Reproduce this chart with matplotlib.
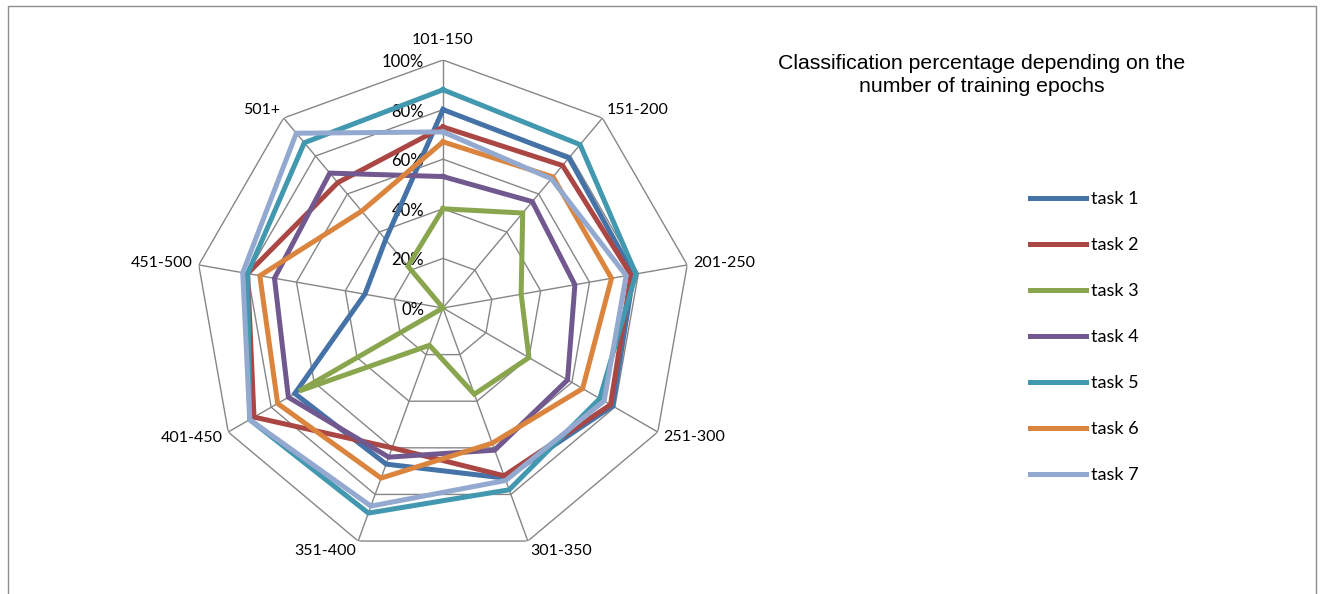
import numpy as np
import matplotlib
matplotlib.use("Agg")
import matplotlib.pyplot as plt
from matplotlib.patches import Rectangle

# epoch ranges (spokes, clockwise from the top)
categories = ["101-150", "151-200", "201-250", "251-300", "301-350",
              "351-400", "401-450", "451-500", "501+"]

# classification percentage per task
task1 = [80, 79, 78, 79, 73, 67, 69, 32, 36]
task2 = [73, 75, 77, 78, 72, 60, 88, 80, 66]
task3 = [40, 50, 32, 40, 37, 16, 67, 0, 22]
task4 = [53, 56, 54, 58, 61, 64, 72, 69, 71]
task5 = [88, 86, 79, 73, 78, 88, 90, 80, 87]
task6 = [67, 69, 69, 65, 58, 73, 77, 75, 51]
task7 = [71, 68, 75, 75, 74, 85, 90, 82, 92]

series_names = ["task 1", "task 2", "task 3", "task 4", "task 5", "task 6", "task 7"]
series = [task1, task2, task3, task4, task5, task6, task7]
colors = ["#4572A7", "#AA4643", "#89A54E", "#71588F", "#4198AF", "#DB843D", "#93A9CF"]

ticks = [0, 20, 40, 60, 80, 100]
tick_labels = ["0%", "20%", "40%", "60%", "80%", "100%"]

label_font = "Lato"
title_font = "Liberation Sans"
grid_color = "#868686"

W, H = 1322, 594
fig = plt.figure(figsize=(W / 100, H / 100), dpi=100)

# outer chart border
fig.patches.append(Rectangle((8 / W, -0.1), (1316 - 8) / W, 1.1 - 6 / H,
                             transform=fig.transFigure, fill=False,
                             edgecolor="#8c8c8c", linewidth=1.0))

cx, cy, R = 443, 308, 248
ax = fig.add_axes([(cx - R) / W, (H - cy - R) / H, 2 * R / W, 2 * R / H],
                  projection="polar")
ax.set_theta_zero_location("N")
ax.set_theta_direction(-1)
ax.set_ylim(0, 100)
ax.set_xticks([])
ax.set_yticks([])
ax.grid(False)
ax.spines["polar"].set_visible(False)
ax.patch.set_alpha(0)

n = len(categories)
theta = np.linspace(0, 2 * np.pi, n, endpoint=False)
theta_closed = np.append(theta, theta[0])

# polygon grid and spokes
for t in ticks[1:]:
    ax.plot(theta_closed, [t] * (n + 1), color=grid_color, lw=1.0, zorder=1)
for th in theta:
    ax.plot([th, th], [0, 100], color=grid_color, lw=1.0, zorder=1)

handles = []
for name, vals, c in zip(series_names, series, colors):
    ln, = ax.plot(theta_closed, vals + vals[:1], color=c, lw=3.6,
                  solid_joinstyle="miter", zorder=3, label=name)
    handles.append(ln)

# value labels along the top spoke
for t, lab in zip(ticks, tick_labels):
    ax.annotate(lab, xy=(0, t), xytext=(-19, -2), textcoords="offset pixels",
                ha="right", va="center", fontsize=12, family=label_font,
                zorder=2)

# category labels round the outside
for th, cat in zip(theta, categories):
    s, c = np.sin(th), np.cos(th)
    if abs(s) < 0.1:
        ha, va, off = "center", "bottom", (0, 13)
    else:
        ha = "left" if s > 0 else "right"
        va = "center"
        off = (6 * s, 11 * c)
    ax.annotate(cat, xy=(th, 100), xytext=off, textcoords="offset pixels",
                ha=ha, va=va, fontsize=11.5, family=label_font,
                annotation_clip=False)

fig.text(982 / W, 1 - 75 / H,
         "Classification percentage depending on the\nnumber of training epochs",
         ha="center", va="center", fontsize=15.3, family=title_font,
         linespacing=1.3)

fig.legend(handles=handles, loc="upper left",
           bbox_to_anchor=(1030 / W, 1 - 191 / H), frameon=False,
           prop={"family": label_font, "size": 13}, handlelength=3.1,
           handletextpad=0.3, labelspacing=1.66, borderpad=0, borderaxespad=0)

fig.savefig("out.png", dpi=100)
